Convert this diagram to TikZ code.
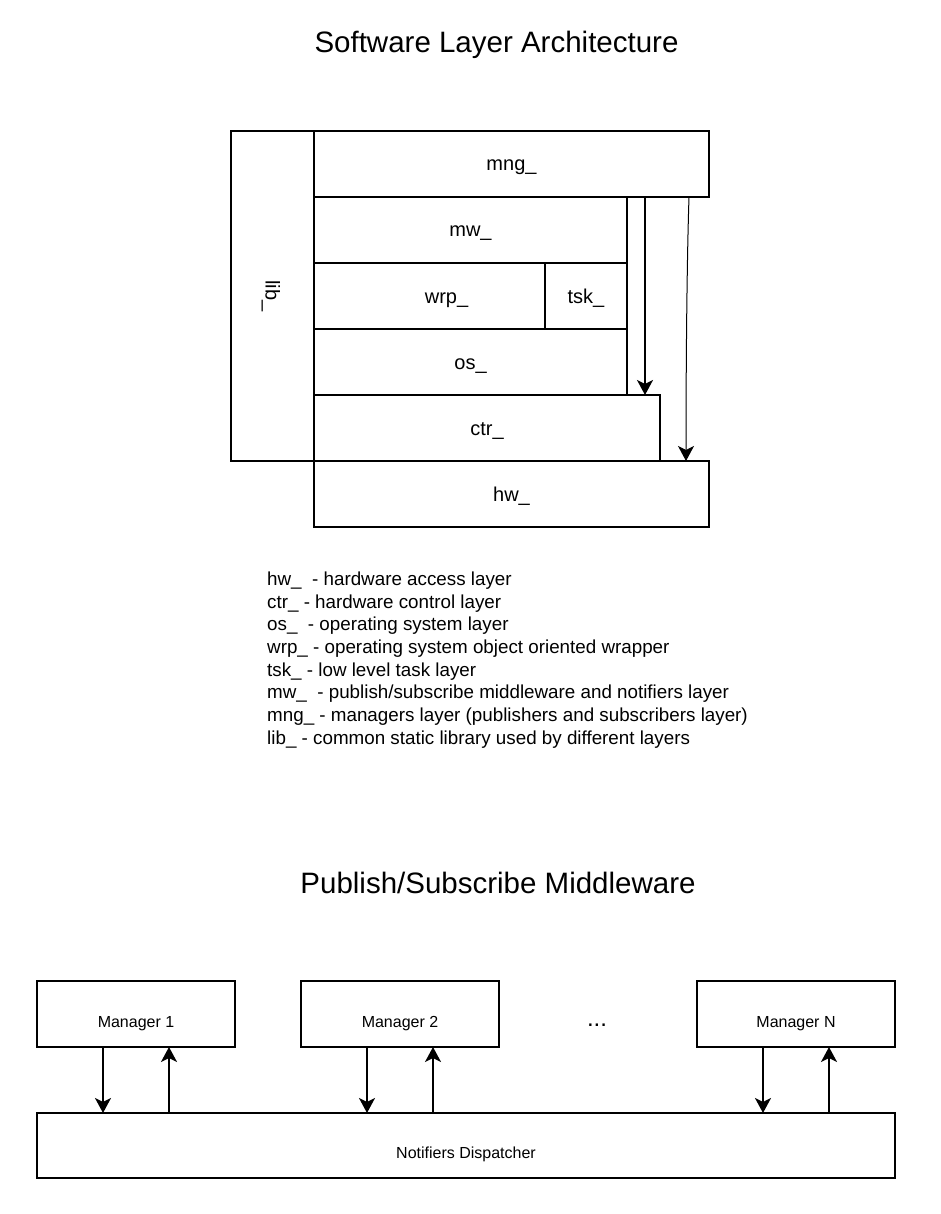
\documentclass[tikz,border=0pt]{standalone}
\usepackage{fontspec}
\setmainfont{Liberation Sans}
\usetikzlibrary{arrows.meta}
\tikzset{
    %Define standard arrow tip
    >={Stealth[length=15pt,width=16pt,inset=4pt]},
    %Define style for layer boxes
    layer/.style={
           rectangle,
           draw=black, line width=2pt,
           inner sep=0pt, outer sep=0pt,
           minimum height=66pt,
           text height=14pt, text depth=0pt,
           font=\fontsize{20}{24}\selectfont,
           text centered,
           },
    %Define style for manager boxes
    manager/.style={
           rectangle,
           draw=black, line width=2pt,
           inner sep=0pt, outer sep=0pt,
           minimum width=198pt,
           minimum height=66pt,
           text height=26pt, text depth=0pt,
           font=\fontsize{16}{19}\selectfont,
           text centered,
           },
    % Define arrow style
    pil/.style={
           ->,
           line width=2pt,},
    title/.style={font=\fontsize{29.5}{35}\selectfont, anchor=base}
}
\begin{document}
\begin{tikzpicture}[x=1pt,y=-1pt]
\useasboundingbox (0,0) rectangle (940,1214);
% software layers
\node[title](t1) at (496.5,53){Software Layer Architecture};
\node[layer, minimum width=395pt, anchor=north west](mng) at (314,131){mng\_};
\node[layer, minimum width=313pt, anchor=north west](mw) at (mng.south west){mw\_};
\node[layer, minimum width=231pt, anchor=north west](wrp) at (mw.south west){\hspace*{34pt}wrp\_};
\node[layer, minimum width=82pt, anchor=north west](tsk) at (wrp.north east){tsk\_};
\node[layer, minimum width=313pt, anchor=north west](os) at (wrp.south west){os\_};
\node[layer, minimum width=346pt, anchor=north west](ctr) at (os.south west){ctr\_};
\node[layer, minimum width=395pt, anchor=north west](hw) at (ctr.south west){hw\_};
\node[layer, minimum width=330pt, minimum height=83pt, rotate=-90](lib) at (272.5,296){lib\_};
\draw[pil] ([xshift=331pt]mng.south west) -- ([xshift=331pt]ctr.north west);
\draw[->, line width=1pt] ([xshift=375pt]mng.south west) .. controls +(-2,60) and +(0,-100) .. ([xshift=372pt]hw.north west);
% legend
\node[anchor=north west, inner sep=0pt, align=left, font=\fontsize{18.8}{22.7}\selectfont](legend) at (267,571.5){%
hw\_\ \ - hardware access layer\\
ctr\_ - hardware control layer\\
os\_\ \ - operating system layer\\
wrp\_ - operating system object oriented wrapper\\
tsk\_ - low level task layer\\
mw\_\ \ - publish/subscribe middleware and notifiers layer\\
mng\_ - managers layer (publishers and subscribers layer)\\
lib\_ - common static library used by different layers};
% middleware
\node[title](t2) at (498,893){Publish/Subscribe Middleware};
\node[manager](m1) at (136,1014){Manager 1};
\node[manager](m2) at (400,1014){Manager 2};
\node[manager](mN) at (796,1014){Manager N};
\node[anchor=base, font=\fontsize{24}{28}\selectfont](dots) at (597,1026){...};
\node[manager, minimum width=858pt, minimum height=65pt, text height=25pt, anchor=north west](nd) at (37,1113){Notifiers Dispatcher};
\foreach \m in {m1,m2,mN}{
  \coordinate (\m-out) at ([xshift=66pt]\m.south west);
  \coordinate (\m-in) at ([xshift=132pt]\m.south west);
  \draw[pil] (\m-out) -- (\m-out |- nd.north);
  \draw[pil] (\m-in |- nd.north) -- (\m-in);
}
\end{tikzpicture}
\end{document}
